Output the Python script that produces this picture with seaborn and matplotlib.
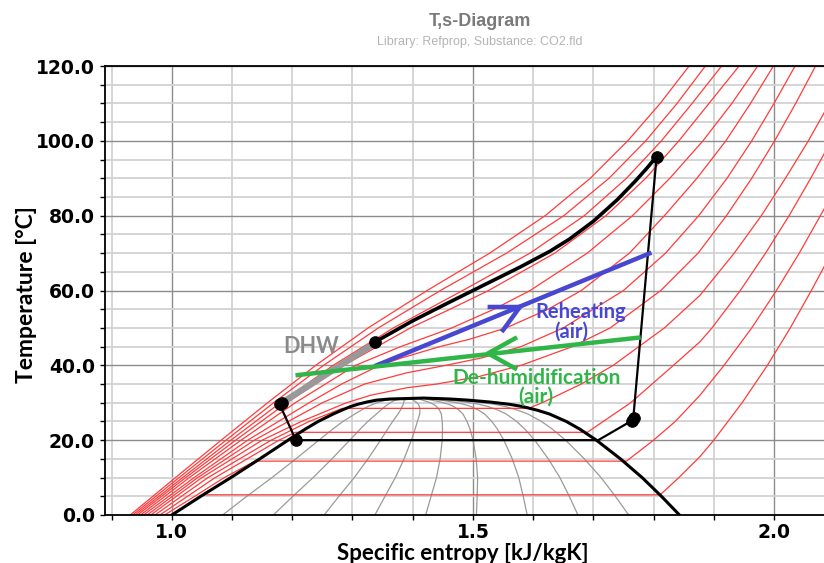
import numpy as np
import pandas as pd
import matplotlib
matplotlib.use("Agg")
import matplotlib.pyplot as plt
from matplotlib.ticker import MultipleLocator, FixedLocator, FormatStrFormatter
import seaborn as sns

# saturation dome
t_sat = [0, 5, 10, 15, 20, 23, 25, 27, 28, 29, 29.6, 30.2, 30.7, 31.0]
s_liq = [1.000, 1.048, 1.098, 1.146, 1.193, 1.222, 1.243, 1.268, 1.282, 1.297, 1.309, 1.324, 1.340, 1.362]
s_vap = [1.843, 1.813, 1.781, 1.745, 1.705, 1.677, 1.655, 1.627, 1.607, 1.582, 1.560, 1.528, 1.492, 1.462]
s_crit, t_crit = 1.418, 31.25
qualities = [0.1, 0.2, 0.3, 0.4, 0.5, 0.6, 0.7, 0.8, 0.9]

# isobars (bar) as (s, T) points
t_150 = [0, 10, 20, 30, 40, 50, 60, 70, 80, 90, 100, 110, 120]
s_150 = [0.931, 1.006, 1.082, 1.159, 1.239, 1.326, 1.424, 1.528, 1.620, 1.695, 1.757, 1.811, 1.859]
t_140 = [0, 10, 20, 30, 40, 50, 60, 70, 80, 90, 100, 110, 120]
s_140 = [0.935, 1.012, 1.090, 1.169, 1.252, 1.343, 1.446, 1.556, 1.651, 1.726, 1.787, 1.839, 1.886]
t_130 = [0, 10, 20, 30, 40, 50, 60, 70, 80, 90, 100, 110, 120]
s_130 = [0.939, 1.018, 1.098, 1.180, 1.268, 1.368, 1.483, 1.595, 1.685, 1.755, 1.813, 1.864, 1.913]
t_120 = [0, 10, 20, 30, 40, 50, 55, 60, 70, 80, 90, 100, 110, 120]
s_120 = [0.943, 1.023, 1.106, 1.191, 1.286, 1.396, 1.462, 1.526, 1.636, 1.721, 1.787, 1.842, 1.892, 1.942]
t_110 = [0, 10, 20, 30, 40, 45, 50, 55, 60, 70, 80, 90, 100, 110, 120]
s_110 = [0.948, 1.029, 1.115, 1.205, 1.305, 1.380, 1.465, 1.535, 1.595, 1.690, 1.765, 1.827, 1.882, 1.930, 1.973]
t_100 = [0, 10, 20, 30, 35, 40, 42, 45, 47, 50, 55, 60, 70, 80, 90, 100, 110, 120]
s_100 = [0.953, 1.037, 1.126, 1.228, 1.282, 1.345, 1.382, 1.445, 1.495, 1.555, 1.625, 1.680, 1.760, 1.818, 1.872, 1.920, 1.961, 1.999]
t_90 = [0, 10, 20, 30, 35, 38, 40, 42, 45, 50, 60, 70, 80, 90, 100, 110, 120]
s_90 = [0.959, 1.043, 1.137, 1.250, 1.320, 1.390, 1.455, 1.515, 1.580, 1.650, 1.750, 1.820, 1.875, 1.922, 1.963, 2.000, 2.035]
t_80 = [0, 10, 20, 25, 30, 32, 34, 35, 37, 40, 45, 50, 60, 70, 80, 90, 100, 110, 120]
s_80 = [0.965, 1.050, 1.150, 1.215, 1.290, 1.330, 1.390, 1.440, 1.510, 1.580, 1.665, 1.728, 1.812, 1.874, 1.921, 1.963, 2.001, 2.036, 2.069]
t_70 = [0, 10, 20, 25, 28.5, 28.5, 30, 35, 40, 50, 58.7, 70, 80, 90, 100, 110, 120]
s_70 = [0.972, 1.060, 1.165, 1.228, 1.283, 1.592, 1.615, 1.680, 1.733, 1.818, 1.877, 1.934, 1.979, 2.019, 2.057, 2.092, 2.125]
t_60 = [0, 10, 20, 22.1, 22.1, 30, 40, 46.3, 50, 60, 70, 80, 90, 100]
s_60 = [0.980, 1.072, 1.178, 1.205, 1.690, 1.762, 1.833, 1.877, 1.897, 1.944, 1.986, 2.025, 2.061, 2.095]
t_50 = [0, 5, 10, 14.4, 14.4, 20, 25, 32, 40, 50, 60, 70, 82.3, 90]
s_50 = [0.988, 1.038, 1.087, 1.138, 1.755, 1.800, 1.836, 1.877, 1.917, 1.963, 2.004, 2.042, 2.085, 2.108]
t_40 = [0, 5.4, 5.4, 10, 15.6, 20, 30, 40, 50, 60, 65.4, 70]
s_40 = [0.998, 1.052, 1.811, 1.842, 1.877, 1.900, 1.947, 1.989, 2.027, 2.062, 2.080, 2.095]

# heat pump cycle
gc_s = [1.337, 1.400, 1.460, 1.520, 1.580, 1.628, 1.660, 1.700, 1.740, 1.770, 1.790, 1.805]
gc_t = [46.2, 51.9, 56.8, 61.6, 66.4, 70.5, 73.7, 78.5, 84.3, 89.3, 92.9, 95.8]
comp_s = [1.805, 1.766]
comp_t = [95.8, 25.4]
evap_s = [1.766, 1.708, 1.206]
evap_t = [25.4, 20.0, 20.0]
exp_s = [1.206, 1.179]
exp_t = [20.0, 29.6]
dhw_s = [1.181, 1.332]
dhw_t = [29.8, 45.4]
dot_s = [1.337, 1.805, 1.764, 1.768, 1.206, 1.179, 1.183]
dot_t = [46.2, 95.8, 25.0, 25.9, 20.0, 29.6, 30.0]

# air side
reheat_s = [1.340, 1.793]
reheat_t = [40.0, 69.9]
reheat_arrow_s = [1.528, 1.578, 1.550]
reheat_arrow_t = [55.6, 55.6, 49.4]
dehum_s = [1.209, 1.775]
dehum_t = [37.4, 47.4]
dehum_arrow_s = [1.570, 1.525, 1.570]
dehum_arrow_t = [47.2, 43.2, 39.2]

plt.rcParams['font.weight'] = 'bold'
fig = plt.figure(figsize=(8.24, 5.63), dpi=100)
ax = fig.add_axes([105 / 824, 48 / 563, 719 / 824, 449 / 563])

isobars = {150: (s_150, t_150), 140: (s_140, t_140), 130: (s_130, t_130),
           120: (s_120, t_120), 110: (s_110, t_110), 100: (s_100, t_100),
           90: (s_90, t_90), 80: (s_80, t_80), 70: (s_70, t_70),
           60: (s_60, t_60), 50: (s_50, t_50), 40: (s_40, t_40)}
iso_df = pd.concat([pd.DataFrame({'s': s, 'T': t, 'p': p}) for p, (s, t) in isobars.items()],
                   ignore_index=True)

sl = np.array(s_liq)
sv = np.array(s_vap)
q_df = pd.concat([pd.DataFrame({'s': list(sl + q * (sv - sl)) + [s_crit],
                                'T': t_sat + [t_crit], 'q': q}) for q in qualities],
                 ignore_index=True)
dome_df = pd.DataFrame({'s': s_liq + [s_crit] + s_vap[::-1],
                        'T': t_sat + [t_crit] + t_sat[::-1]})

sns.lineplot(data=q_df, x='s', y='T', units='q', estimator=None, sort=False,
             color='#9a9a9a', lw=0.9, ax=ax)
sns.lineplot(data=iso_df, x='s', y='T', units='p', estimator=None, sort=False,
             color='#ff3b3b', lw=0.9, ax=ax)
sns.lineplot(data=dome_df, x='s', y='T', estimator=None, sort=False,
             color='black', lw=2.2, ax=ax)

ax.plot(dhw_s, dhw_t, color='#999999', lw=4.5, solid_capstyle='butt')
ax.plot(gc_s, gc_t, color='black', lw=2.6)
ax.plot(comp_s, comp_t, color='black', lw=1.6)
ax.plot(evap_s, evap_t, color='black', lw=1.6)
ax.plot(exp_s, exp_t, color='black', lw=1.6)
ax.plot(reheat_s, reheat_t, color='#4747d1', lw=3.2)
ax.plot(reheat_arrow_s, reheat_arrow_t, color='#4747d1', lw=3.2)
ax.plot(dehum_s, dehum_t, color='#2fb548', lw=3.2)
ax.plot(dehum_arrow_s, dehum_arrow_t, color='#2fb548', lw=3.2)
sns.scatterplot(x=dot_s, y=dot_t, color='black', s=70, edgecolor='black', zorder=5, ax=ax)

lab = dict(family='Lato', fontweight='bold', ha='center', va='center')
ax.text(1.231, 45.1, 'DHW', color='#8a8a8a', fontsize=15.5, **lab)
ax.text(1.679, 54.2, 'Reheating', color='#4747d1', fontsize=14.5, **lab)
ax.text(1.664, 49.0, '(air)', color='#4747d1', fontsize=14.5, **lab)
ax.text(1.605, 36.6, 'De-humidification', color='#2fb548', fontsize=15, **lab)
ax.text(1.605, 31.5, '(air)', color='#2fb548', fontsize=15, **lab)

ax.set_xlim(0.889, 2.083)
ax.set_ylim(0, 120)
ax.xaxis.set_major_locator(FixedLocator([1.0, 1.5, 2.0]))
ax.xaxis.set_minor_locator(MultipleLocator(0.1))
ax.yaxis.set_major_locator(MultipleLocator(20))
ax.yaxis.set_minor_locator(MultipleLocator(5))
ax.xaxis.set_major_formatter(FormatStrFormatter('%.1f'))
ax.yaxis.set_major_formatter(FormatStrFormatter('%.1f'))
ax.grid(which='major', color='#8c8c8c', lw=1.0)
ax.grid(which='minor', color='#d2d2d2', lw=1.3)
ax.set_axisbelow(True)
ax.tick_params(which='both', direction='out', length=3.6, width=1, color='black')
ax.tick_params(axis='y', labelsize=13.5, pad=3.6)
ax.tick_params(axis='x', labelsize=13.5, pad=2.5)
for side in ['left', 'bottom', 'top']:
    ax.spines[side].set_color('black')
    ax.spines[side].set_linewidth(1.3)
ax.spines['right'].set_visible(False)

ax.set_xlabel('Specific entropy [kJ/kgK]', fontsize=16, family='Lato', fontweight='bold')
ax.set_ylabel('Temperature [°C]', fontsize=16.5, family='Lato', fontweight='bold')
ax.xaxis.set_label_coords(0.498, -0.062)
ax.yaxis.set_label_coords(-0.0946, 0.49)

fig.text(480 / 824, 1 - 21 / 563, 'T,s-Diagram', family='Liberation Sans', fontweight='bold',
         fontsize=13, color='#7a7a7a', ha='center', va='center')
fig.text(480 / 824, 1 - 42.5 / 563, 'Library: Refprop, Substance: CO2.fld', family='Liberation Sans',
         fontweight='normal', fontsize=9, color='#b4b4b4', ha='center', va='center')

fig.savefig('out.png', dpi=100)
